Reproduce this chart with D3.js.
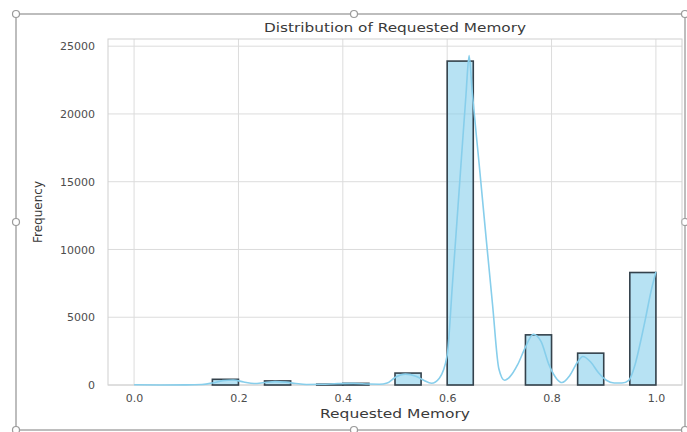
<!DOCTYPE html>
<html>
<head>
<meta charset="utf-8">
<script src="https://cdn.jsdelivr.net/npm/d3@7"></script>
<style>
	body { margin: 0; background: #fff; }
	svg text { font-family: 'DejaVu Sans', sans-serif; }
</style>
</head>
<body>
<div class="chart"></div>
<script>
// histogram bins (left edge) and counts, width 0.05
const binStarts = [0.00, 0.05, 0.10, 0.15, 0.20, 0.25, 0.30, 0.35, 0.40, 0.45, 0.50, 0.55, 0.60, 0.65, 0.70, 0.75, 0.80, 0.85, 0.90, 0.95]
const counts = [0, 0, 0, 420, 0, 300, 0, 60, 120, 0, 880, 0, 23900, 0, 0, 3700, 0, 2350, 0, 8300]
const BIN_WIDTH = 0.05

// kde curve (already scaled to counts)
const kdeX = [0.00, 0.05, 0.10, 0.13, 0.15, 0.17, 0.19, 0.21, 0.23, 0.25, 0.27, 0.29, 0.31, 0.33, 0.36, 0.39, 0.42, 0.45, 0.47, 0.485, 0.50, 0.52, 0.54, 0.555, 0.57, 0.585, 0.60, 0.61, 0.623, 0.636, 0.642, 0.648, 0.661, 0.674, 0.687, 0.699, 0.71, 0.72, 0.735, 0.75, 0.765, 0.78, 0.795, 0.81, 0.82, 0.835, 0.85, 0.86, 0.875, 0.89, 0.905, 0.92, 0.935, 0.948, 0.96, 0.97, 0.98, 0.99, 1.00]
const kdeY = [15, 5, 10, 40, 150, 320, 370, 220, 110, 180, 250, 210, 110, 40, 50, 100, 120, 70, 60, 150, 550, 800, 650, 350, 130, 500, 2200, 7400, 14400, 21400, 24300, 21600, 16400, 11100, 5900, 1200, 350, 600, 1500, 2800, 3750, 3200, 1500, 450, 180, 700, 1700, 2100, 1700, 900, 350, 150, 150, 350, 1500, 3100, 4900, 6800, 8350]

const xTicks = [0.0, 0.2, 0.4, 0.6, 0.8, 1.0]
const yTicks = [0, 5000, 10000, 15000, 20000, 25000]

const TITLE = 'Distribution of Requested Memory'
const X_LABEL = 'Requested Memory'
const Y_LABEL = 'Frequency'

const WIDTH = 687
const HEIGHT = 432
const plot = { left: 108, right: 682, top: 39, bottom: 385 }

const BAR_FILL = 'rgba(135, 206, 235, 0.6)'
const BAR_EDGE = '#34424c'
const KDE_COLOR = '#87ceeb'
const GRID = '#dcdcdc'
const TEXT = '#3a3a3a'
const TICK_TEXT = '#4d4d4d'

const svg = d3.select('.chart').append('svg')
	.attr('width', WIDTH)
	.attr('height', HEIGHT)

const scaleX = d3.scaleLinear().domain([-0.05, 1.05]).range([plot.left, plot.right])
const scaleY = d3.scaleLinear().domain([0, 25530]).range([plot.bottom, plot.top])

function drawGrid() {
	const g = svg.append('g').attr('class', 'grid')

	g.selectAll('.gx').data(xTicks).enter().append('line')
		.attr('x1', d => scaleX(d)).attr('x2', d => scaleX(d))
		.attr('y1', plot.top).attr('y2', plot.bottom)
		.attr('stroke', GRID).attr('stroke-width', 1)

	g.selectAll('.gy').data(yTicks).enter().append('line')
		.attr('x1', plot.left).attr('x2', plot.right)
		.attr('y1', d => scaleY(d)).attr('y2', d => scaleY(d))
		.attr('stroke', GRID).attr('stroke-width', 1)

	g.append('rect')
		.attr('x', plot.left).attr('y', plot.top)
		.attr('width', plot.right - plot.left)
		.attr('height', plot.bottom - plot.top)
		.attr('fill', 'none')
		.attr('stroke', '#d0d0d0')
}

function drawBars() {
	const data = binStarts.map((d, i) => ({ x0: d, x1: d + BIN_WIDTH, count: counts[i] }))
		.filter(d => d.count > 0)

	svg.append('g').attr('class', 'bars')
		.selectAll('rect').data(data).enter().append('rect')
		.attr('x', d => scaleX(d.x0))
		.attr('y', d => scaleY(d.count))
		.attr('width', d => scaleX(d.x1) - scaleX(d.x0))
		.attr('height', d => scaleY(0) - scaleY(d.count))
		.attr('fill', BAR_FILL)
		.attr('stroke', BAR_EDGE)
		.attr('stroke-width', 1.6)
}

function drawKde() {
	const line = d3.line()
		.x(d => scaleX(d[0]))
		.y(d => scaleY(d[1]))
		.curve(d3.curveMonotoneX)

	svg.append('path')
		.datum(kdeX.map((x, i) => [x, kdeY[i]]))
		.attr('d', line)
		.attr('fill', 'none')
		.attr('stroke', KDE_COLOR)
		.attr('stroke-width', 1.6)
}

function drawAxes() {
	const axisBottom = d3.axisBottom(scaleX).tickValues(xTicks).tickFormat(d3.format('.1f')).tickSize(0).tickPadding(9)
	const axisLeft = d3.axisLeft(scaleY).tickValues(yTicks).tickFormat(d3.format('d')).tickSize(0).tickPadding(13)

	svg.append('g').attr('transform', `translate(0, ${plot.bottom})`).call(axisBottom)
	svg.append('g').attr('transform', `translate(${plot.left}, 0)`).call(axisLeft)

	svg.selectAll('.domain').remove()
	svg.selectAll('.tick text')
		.attr('font-family', 'DejaVu Sans, sans-serif')
		.attr('font-size', 11)
		.attr('fill', TICK_TEXT)

	svg.append('text')
		.attr('x', (plot.left + plot.right) / 2)
		.attr('y', 32)
		.attr('text-anchor', 'middle')
		.attr('font-size', 13)
		.attr('textLength', 262)
		.attr('lengthAdjust', 'spacingAndGlyphs')
		.attr('fill', TEXT)
		.text(TITLE)

	svg.append('text')
		.attr('x', (plot.left + plot.right) / 2)
		.attr('y', 418)
		.attr('text-anchor', 'middle')
		.attr('font-size', 13)
		.attr('textLength', 150)
		.attr('lengthAdjust', 'spacingAndGlyphs')
		.attr('fill', TEXT)
		.text(X_LABEL)

	svg.append('text')
		.attr('transform', `translate(42, ${(plot.top + plot.bottom) / 2}) rotate(-90)`)
		.attr('text-anchor', 'middle')
		.attr('font-size', 12)
		.attr('fill', TEXT)
		.text(Y_LABEL)
}

// the selection box with its handles around the figure
function drawFrame() {
	const l = 16, r = 685, t = 14, b = 430
	const mx = 354, my = 222
	const g = svg.append('g').attr('class', 'frame')

	g.append('rect')
		.attr('x', l).attr('y', t)
		.attr('width', r - l).attr('height', b - t)
		.attr('fill', 'none')
		.attr('stroke', '#a8a8a8')
		.attr('stroke-width', 1.5)

	const handles = [[l, t], [mx, t], [r, t], [l, my], [r, my], [l, b], [mx, b], [r, b]]
	g.selectAll('circle').data(handles).enter().append('circle')
		.attr('cx', d => d[0]).attr('cy', d => d[1])
		.attr('r', 3.5)
		.attr('fill', '#fff')
		.attr('stroke', '#9a9a9a')
		.attr('stroke-width', 1.2)
}

drawFrame()
drawGrid()
drawBars()
drawKde()
drawAxes()
</script>
</body>
</html>
